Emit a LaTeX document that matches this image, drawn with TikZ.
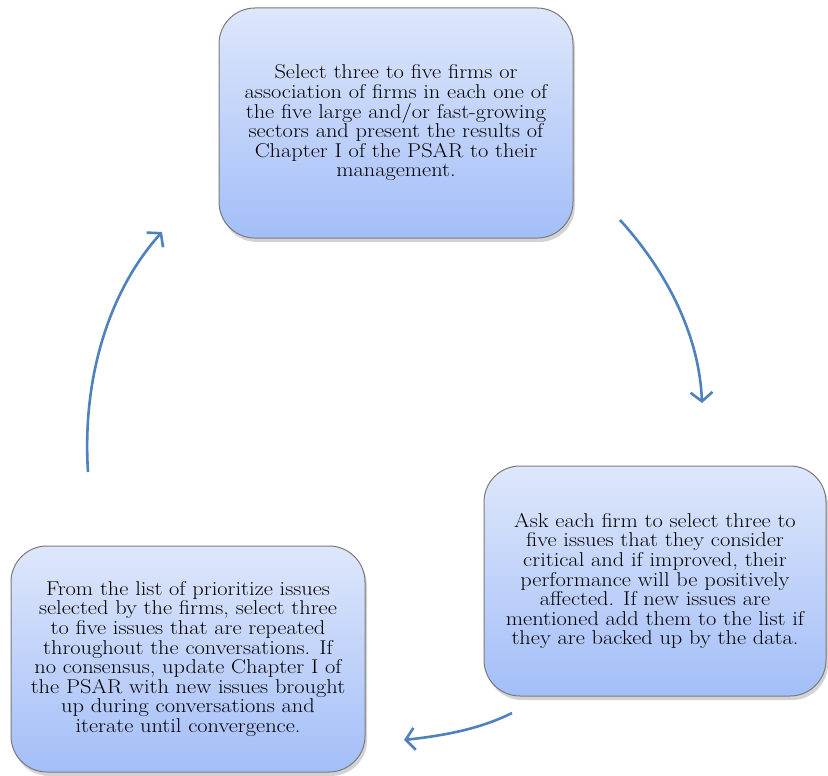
\documentclass[tikz,border=0pt]{standalone}
\usepackage{fontspec}
\setmainfont{Latin Modern Roman}[FakeStretch=1.12]
\usetikzlibrary{arrows.meta,shadows}
\definecolor{arrowblue}{HTML}{4F81BD}
\definecolor{boxtop}{HTML}{DEE7FB}
\definecolor{boxbot}{HTML}{A3BEF8}
\definecolor{boxline}{HTML}{7A7A7A}
\begin{document}
\begin{tikzpicture}[x=1pt,y=-1pt,
  stepbox/.style={draw=boxline, line width=1pt, rounded corners=36pt,
    top color=boxtop, bottom color=boxbot, align=center,
    font=\fontsize{20}{19.6}\selectfont, inner sep=0pt,
    drop shadow={opacity=0.35, shadow xshift=2pt, shadow yshift=-4pt}},
  flow/.style={draw=arrowblue, line width=2.6pt,
    -{Straight Barb[length=9pt,width=22pt,line width=2.6pt]}}]
\useasboundingbox (0,0) rectangle (828,776);

\node[stepbox, minimum width=354pt, minimum height=230pt] (top) at (396,123)
 {Select three to five firms or\\association of firms in each one of\\the five large and/or fast-growing\\sectors and present the results of\\Chapter I of the PSAR to their\\management.};

\node[stepbox, minimum width=342pt, minimum height=230pt] (right) at (655,581)
 {Ask each firm to select three to\\five issues that they consider\\critical and if improved, their\\performance will be positively\\affected. If new issues are\\mentioned add them to the list if\\they are backed up by the data.};

\node[stepbox, minimum width=354pt, minimum height=226pt] (left) at (188,659)
 {From the list of prioritize issues\\selected by the firms, select three\\to five issues that are repeated\\throughout the conversations. If\\no consensus, update Chapter I of\\the PSAR with new issues brought\\up during conversations and\\iterate until convergence.};

\coordinate (a1s) at (620,220);
\coordinate (a1e) at (702,403);
\coordinate (a2s) at (512,713);
\coordinate (a2e) at (404,740);
\coordinate (a3s) at (88,472);
\coordinate (a3e) at (162,232);

\draw[flow] (a1s) .. controls (662,266) and (699,330) .. (a1e);
\draw[flow] (a2s) .. controls (478,730) and (440,736) .. (a2e);
\draw[flow] (a3s) .. controls (82,380) and (108,292) .. (a3e);
\end{tikzpicture}
\end{document}
